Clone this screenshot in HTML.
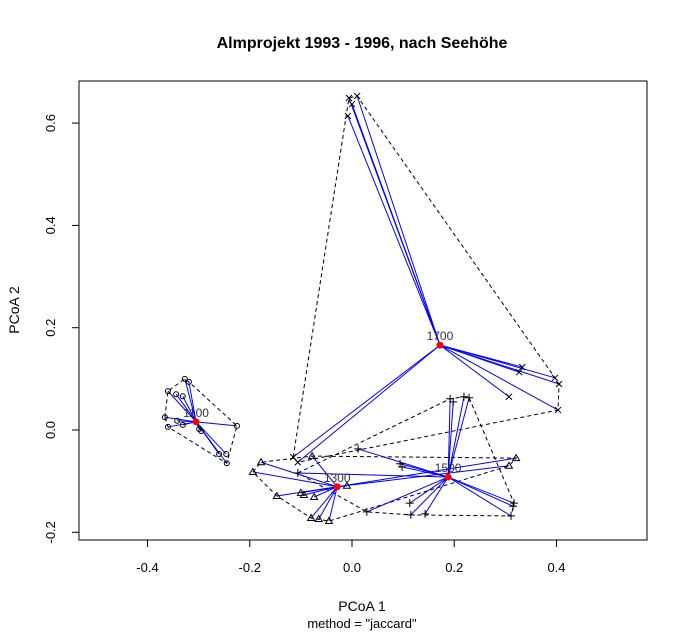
<!DOCTYPE html>
<html><head><meta charset="utf-8"><style>
body{margin:0;background:#fff}
svg{display:block;font-family:"Liberation Sans",Arial,sans-serif}
</style></head><body>
<svg id="chart" width="687" height="636">
<text x="362" y="48" text-anchor="middle" font-size="16" font-weight="bold">Almprojekt 1993 - 1996, nach Seehöhe</text>
<rect x="79" y="81" width="568" height="459" fill="none" stroke="#000"/>
<text x="362" y="611" text-anchor="middle" font-size="14">PCoA 1</text>
<text x="362" y="628" text-anchor="middle" font-size="13">method = "jaccard"</text>
<text transform="translate(19,310) rotate(-90)" text-anchor="middle" font-size="14">PCoA 2</text>
<g id="axes"></g><g id="hulls"></g><g id="segs"></g><g id="pts"></g><g id="cents"></g>
</svg>
<script>
const groupNames=["1100","1300","1500","1700"];
const xTicks=[-0.4,-0.2,0.0,0.2,0.4];
const yTicks=[-0.2,0.0,0.2,0.4,0.6];
const xTickLabels=["-0.4","-0.2","0.0","0.2","0.4"];
const yTickLabels=["-0.2","0.0","0.2","0.4","0.6"];
const g1100x=[-0.327,-0.319,-0.360,-0.344,-0.331,-0.366,-0.342,-0.331,-0.360,-0.299,-0.295,-0.225,-0.260,-0.246,-0.245];
const g1100y=[0.100,0.094,0.076,0.070,0.066,0.025,0.018,0.010,0.006,0.002,-0.002,0.008,-0.047,-0.047,-0.065];
const g1300x=[-0.178,-0.194,-0.147,-0.100,-0.094,-0.074,-0.080,-0.065,-0.045,-0.010,-0.078,0.321,0.307];
const g1300y=[-0.063,-0.082,-0.129,-0.123,-0.127,-0.131,-0.172,-0.174,-0.178,-0.109,-0.051,-0.055,-0.070];
const g1500x=[0.012,0.094,0.098,0.192,0.198,0.219,0.229,0.113,0.029,0.115,0.143,0.317,0.315,0.311,-0.106];
const g1500y=[-0.037,-0.066,-0.072,0.061,0.055,0.065,0.063,-0.143,-0.160,-0.166,-0.164,-0.143,-0.149,-0.168,-0.084];
const g1700x=[-0.006,0.010,0.000,-0.008,0.333,0.327,0.397,0.405,0.403,0.307,-0.115,-0.106];
const g1700y=[0.649,0.653,0.637,0.614,0.123,0.113,0.102,0.090,0.039,0.065,-0.053,-0.063];
const centX=[-0.305,-0.029,0.188,0.172];
const centY=[0.016,-0.111,-0.092,0.166];

const NS="http://www.w3.org/2000/svg";
const sx=v=>352+v*511.25, sy=v=>430-v*511.5;
function mk(tag,attrs,parent){const e=document.createElementNS(NS,tag);for(const k in attrs)e.setAttribute(k,attrs[k]);document.getElementById(parent).appendChild(e);return e;}
xTicks.forEach((t,i)=>{
  const l=mk("line",{x1:sx(t),x2:sx(t),y1:540,y2:547,stroke:"#000"},"axes");
  
  
  const tx=mk("text",{x:sx(t),y:572,"text-anchor":"middle","font-size":"13"},"axes");tx.textContent=xTickLabels[i];
  
  
});
yTicks.forEach((t,i)=>{
  const l=mk("line",{x1:72,x2:79,y1:sy(t),y2:sy(t),stroke:"#000"},"axes");
  
  
  const tx=mk("text",{transform:`translate(55,${sy(t)}) rotate(-90)`,"text-anchor":"middle","font-size":"13"},"axes");tx.textContent=yTickLabels[i];
  
  
});
const groups=[[g1100x,g1100y],[g1300x,g1300y],[g1500x,g1500y],[g1700x,g1700y]];
function hull(p){p=p.slice().sort((a,b)=>a[0]-b[0]||a[1]-b[1]);const cr=(o,a,b)=>(a[0]-o[0])*(b[1]-o[1])-(a[1]-o[1])*(b[0]-o[0]);const lo=[],up=[];for(const q of p){while(lo.length>1&&cr(lo[lo.length-2],lo[lo.length-1],q)<=0)lo.pop();lo.push(q);}for(const q of p.slice().reverse()){while(up.length>1&&cr(up[up.length-2],up[up.length-1],q)<=0)up.pop();up.push(q);}return lo.slice(0,-1).concat(up.slice(0,-1));}
groups.forEach((g,gi)=>{
  const [xs,ys]=g;const cx=sx(centX[gi]),cy=sy(centY[gi]);
  const P=xs.map((x,i)=>[sx(x),sy(ys[i])]);
  const h=mk("polygon",{points:hull(P).map(q=>q.join(",")).join(" "),fill:"none",stroke:"#000","stroke-dasharray":"4,3"},"hulls");
  
  
  P.forEach(([px,py])=>{
    const s=mk("line",{x1:cx,y1:cy,x2:px,y2:py,stroke:"#0000ff","stroke-width":"1"},"segs");
    
    
    let e;
    if(gi===0)e=mk("circle",{cx:px,cy:py,r:2.5,fill:"none",stroke:"#000"},"pts");
    else if(gi===1)e=mk("polygon",{points:`${px},${py-3.5} ${px-3.5},${py+2.5} ${px+3.5},${py+2.5}`,fill:"none",stroke:"#000"},"pts");
    else if(gi===2)e=mk("path",{d:`M${px-4},${py}H${px+4}M${px},${py-4}V${py+4}`,stroke:"#000"},"pts");
    else e=mk("path",{d:`M${px-3},${py-3}L${px+3},${py+3}M${px-3},${py+3}L${px+3},${py-3}`,stroke:"#000"},"pts");
    
    
  });
  const c=mk("circle",{cx:cx,cy:cy,r:3.5,fill:"#ff0000"},"cents");
  
  
  const t=mk("text",{x:cx,y:cy-5,"text-anchor":"middle","font-size":"12",fill:"#333"},"cents");t.textContent=groupNames[gi];
  
  
});
</script>
</body></html>
